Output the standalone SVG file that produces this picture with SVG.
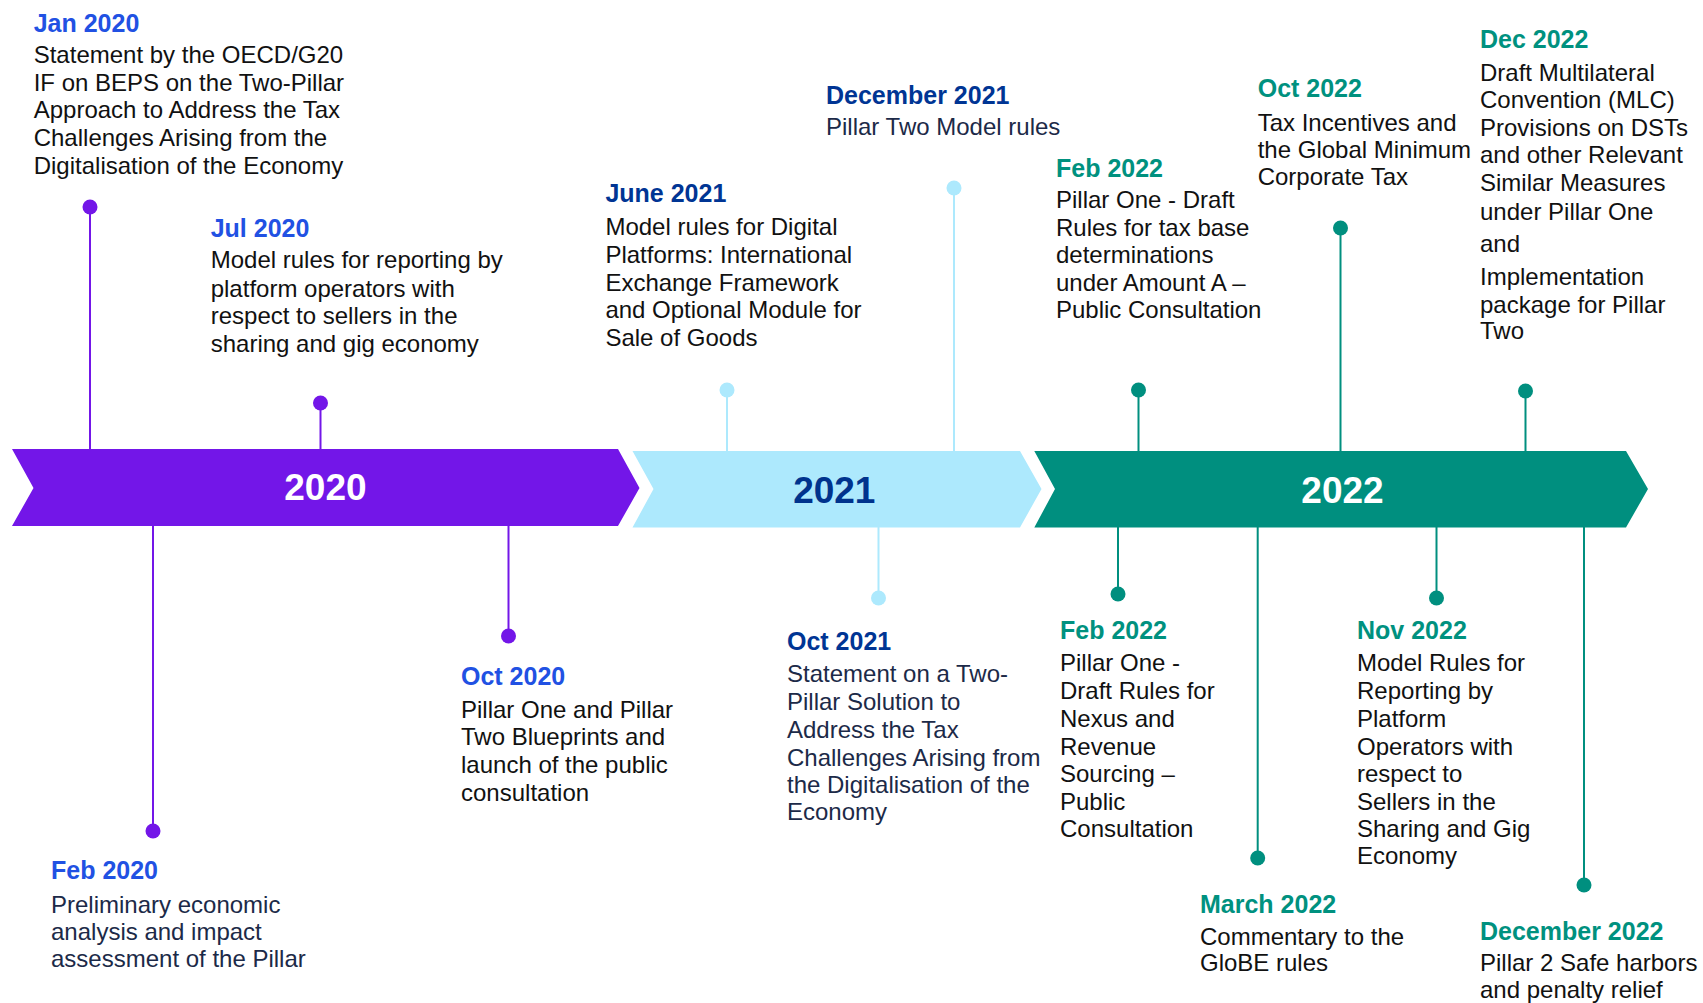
<svg xmlns="http://www.w3.org/2000/svg" width="1703" height="1003" viewBox="0 0 1703 1003">
<style>
text{font-family:"Liberation Sans",Arial,sans-serif}
.t{font-size:25px;font-weight:bold}
.b{font-size:24px;fill:#111}
.n{fill:#1C2A48}
.t0{fill:#2151E3}
.t1{fill:#003594}
.t2{fill:#00917F}
.yr{font-size:37px;font-weight:bold;text-anchor:middle}
.s0{stroke:#7316E8;stroke-width:2}
.s1{stroke:#ADE9FD;stroke-width:2}
.s2{stroke:#008F7F;stroke-width:2}
.d0{fill:#7316E8}
.d1{fill:#ADE9FD}
.d2{fill:#008F7F}
</style>
<rect width="1703" height="1003" fill="#fff"/>
<g id="connectors">
<line class="s0" x1="90" y1="207" x2="90" y2="449"/>
<line class="s0" x1="320.5" y1="403" x2="320.5" y2="449"/>
<line class="s0" x1="153" y1="526" x2="153" y2="831"/>
<line class="s0" x1="508.5" y1="526" x2="508.5" y2="636"/>
<line class="s1" x1="727" y1="390" x2="727" y2="451"/>
<line class="s1" x1="954" y1="188" x2="954" y2="451"/>
<line class="s1" x1="878.5" y1="527" x2="878.5" y2="598"/>
<line class="s2" x1="1138.5" y1="390" x2="1138.5" y2="451"/>
<line class="s2" x1="1340.5" y1="228" x2="1340.5" y2="451"/>
<line class="s2" x1="1525.5" y1="391" x2="1525.5" y2="451"/>
<line class="s2" x1="1118" y1="527" x2="1118" y2="594"/>
<line class="s2" x1="1257.7" y1="527" x2="1257.7" y2="858"/>
<line class="s2" x1="1436.5" y1="527" x2="1436.5" y2="598"/>
<line class="s2" x1="1584" y1="527" x2="1584" y2="885"/>
<circle class="d0" cx="90" cy="207" r="7.5"/>
<circle class="d0" cx="320.5" cy="403" r="7.5"/>
<circle class="d0" cx="153" cy="831" r="7.5"/>
<circle class="d0" cx="508.5" cy="636" r="7.5"/>
<circle class="d1" cx="727" cy="390" r="7.5"/>
<circle class="d1" cx="954" cy="188" r="7.5"/>
<circle class="d1" cx="878.5" cy="598" r="7.5"/>
<circle class="d2" cx="1138.5" cy="390" r="7.5"/>
<circle class="d2" cx="1340.5" cy="228" r="7.5"/>
<circle class="d2" cx="1525.5" cy="391" r="7.5"/>
<circle class="d2" cx="1118" cy="594" r="7.5"/>
<circle class="d2" cx="1257.7" cy="858" r="7.5"/>
<circle class="d2" cx="1436.5" cy="598" r="7.5"/>
<circle class="d2" cx="1584" cy="885" r="7.5"/>
</g>
<g id="year-2020">
<path d="M12,449 L618,449 L639.5,488 L618,526 L12,526 L33.5,488 Z" fill="#7316E8"/>
<text class="yr" x="325.4" y="500" fill="#fff">2020</text>
</g>
<g id="year-2021">
<path d="M632.5,451 L1020,451 L1041.5,489 L1020,527.5 L632.5,527.5 L653.5,489 Z" fill="#ADE9FD"/>
<text class="yr" x="834.3" y="502.6" fill="#00338D">2021</text>
</g>
<g id="year-2022">
<path d="M1034.3,451 L1626,451 L1648,489 L1626,527.5 L1034.3,527.5 L1055,489 Z" fill="#008F7F"/>
<text class="yr" x="1342.5" y="502.6" fill="#fff">2022</text>
</g>
<g id="jan-2020">
<text class="t t0" x="33.7" y="31.7">Jan 2020</text>
<text class="b" x="33.7"><tspan x="33.7" y="63.3">Statement by the OECD/G20</tspan><tspan x="33.7" y="90.7">IF on BEPS on the Two-Pillar</tspan><tspan x="33.7" y="118">Approach to Address the Tax</tspan><tspan x="33.7" y="146">Challenges Arising from the</tspan><tspan x="33.7" y="174">Digitalisation of the Economy</tspan></text>
</g>
<g id="jul-2020">
<text class="t t0" x="210.7" y="237.3">Jul 2020</text>
<text class="b"><tspan x="210.7" y="268.3">Model rules for reporting by</tspan><tspan x="210.7" y="296.7">platform operators with</tspan><tspan x="210.7" y="324">respect to sellers in the</tspan><tspan x="210.7" y="351.7">sharing and gig economy</tspan></text>
</g>
<g id="feb-2020">
<text class="t t0" x="51" y="879">Feb 2020</text>
<text class="b n"><tspan x="51" y="912.7">Preliminary economic</tspan><tspan x="51" y="939.9">analysis and impact</tspan><tspan x="51" y="966.7">assessment of the Pillar</tspan></text>
</g>
<g id="oct-2020">
<text class="t t0" x="461" y="684.8">Oct 2020</text>
<text class="b"><tspan x="461" y="717.5">Pillar One and Pillar</tspan><tspan x="461" y="745.4">Two Blueprints and</tspan><tspan x="461" y="772.5">launch of the public</tspan><tspan x="461" y="801">consultation</tspan></text>
</g>
<g id="june-2021">
<text class="t t1" x="605.4" y="202.3">June 2021</text>
<text class="b"><tspan x="605.4" y="235">Model rules for Digital</tspan><tspan x="605.4" y="263.3">Platforms: International</tspan><tspan x="605.4" y="290.7">Exchange Framework</tspan><tspan x="605.4" y="318.3">and Optional Module for</tspan><tspan x="605.4" y="346">Sale of Goods</tspan></text>
</g>
<g id="dec-2021">
<text class="t t1" x="826" y="104">December 2021</text>
<text class="b n" x="826" y="135">Pillar Two Model rules</text>
</g>
<g id="oct-2021">
<text class="t t1" x="787" y="649.5">Oct 2021</text>
<text class="b n"><tspan x="787" y="682.2">Statement on a Two-</tspan><tspan x="787" y="710">Pillar Solution to</tspan><tspan x="787" y="738">Address the Tax</tspan><tspan x="787" y="765.9">Challenges Arising from</tspan><tspan x="787" y="792.6">the Digitalisation of the</tspan><tspan x="787" y="819.8">Economy</tspan></text>
</g>
<g id="feb-2022-a">
<text class="t t2" x="1056" y="176.7">Feb 2022</text>
<text class="b"><tspan x="1056" y="208.3">Pillar One - Draft</tspan><tspan x="1056" y="236">Rules for tax base</tspan><tspan x="1056" y="263.3">determinations</tspan><tspan x="1056" y="290.7">under Amount A –</tspan><tspan x="1056" y="318.3">Public Consultation</tspan></text>
</g>
<g id="oct-2022">
<text class="t t2" x="1257.7" y="97.3">Oct 2022</text>
<text class="b"><tspan x="1257.7" y="130.7">Tax Incentives and</tspan><tspan x="1257.7" y="157.7">the Global Minimum</tspan><tspan x="1257.7" y="185">Corporate Tax</tspan></text>
</g>
<g id="dec-2022">
<text class="t t2" x="1480" y="48.3">Dec 2022</text>
<text class="b"><tspan x="1480" y="81">Draft Multilateral</tspan><tspan x="1480" y="108.3">Convention (MLC)</tspan><tspan x="1480" y="136">Provisions on DSTs</tspan><tspan x="1480" y="163.3">and other Relevant</tspan><tspan x="1480" y="190.7">Similar Measures</tspan><tspan x="1480" y="220">under Pillar One</tspan><tspan x="1480" y="251.7">and</tspan><tspan x="1480" y="285">Implementation</tspan><tspan x="1480" y="313.3">package for Pillar</tspan><tspan x="1480" y="339.3">Two</tspan></text>
</g>
<g id="feb-2022-b">
<text class="t t2" x="1060" y="639.4">Feb 2022</text>
<text class="b"><tspan x="1060" y="671">Pillar One -</tspan><tspan x="1060" y="698.9">Draft Rules for</tspan><tspan x="1060" y="726.8">Nexus and</tspan><tspan x="1060" y="754.7">Revenue</tspan><tspan x="1060" y="781.5">Sourcing –</tspan><tspan x="1060" y="809.7">Public</tspan><tspan x="1060" y="837.3">Consultation</tspan></text>
</g>
<g id="march-2022">
<text class="t t2" x="1200" y="912.7">March 2022</text>
<text class="b"><tspan x="1200" y="945.1">Commentary to the</tspan><tspan x="1200" y="971.1">GloBE rules</tspan></text>
</g>
<g id="nov-2022">
<text class="t t2" x="1357" y="639.4">Nov 2022</text>
<text class="b"><tspan x="1357" y="671">Model Rules for</tspan><tspan x="1357" y="698.9">Reporting by</tspan><tspan x="1357" y="726.8">Platform</tspan><tspan x="1357" y="754.7">Operators with</tspan><tspan x="1357" y="781.5">respect to</tspan><tspan x="1357" y="809.7">Sellers in the</tspan><tspan x="1357" y="837.3">Sharing and Gig</tspan><tspan x="1357" y="864.4">Economy</tspan></text>
</g>
<g id="december-2022">
<text class="t t2" x="1480" y="939.9">December 2022</text>
<text class="b"><tspan x="1480" y="971.1">Pillar 2 Safe harbors</tspan><tspan x="1480" y="998.3">and penalty relief</tspan></text>
</g>
</svg>
